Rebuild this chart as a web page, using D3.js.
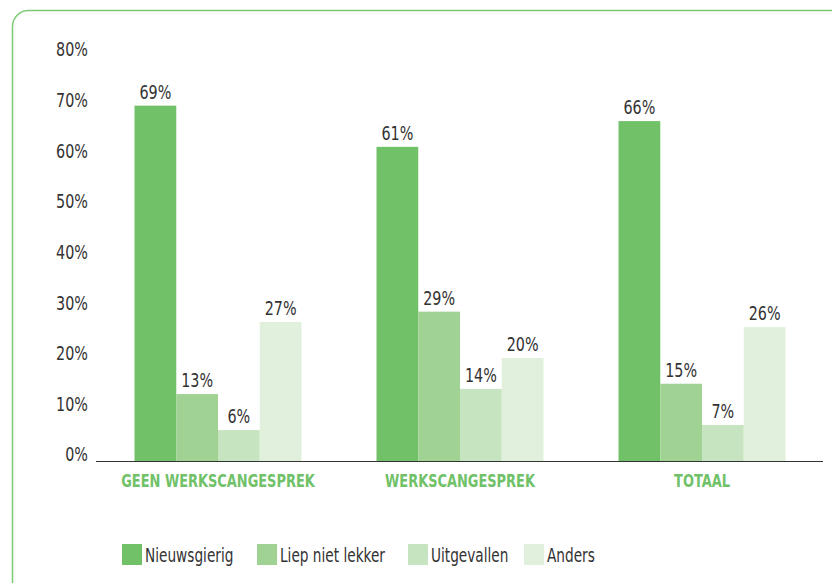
<!DOCTYPE html>
<html>
<head>
<meta charset="utf-8">
<script src="https://cdn.jsdelivr.net/npm/d3@7"></script>
<style>
  body { margin: 0; background: #fff; }
  svg { display: block; }
  text { font-family: "DejaVu Sans Condensed", "Liberation Sans", sans-serif; }
</style>
</head>
<body>
<svg width="832" height="583"></svg>
<script>
// Data
const groups = ["GEEN WERKSCANGESPREK", "WERKSCANGESPREK", "TOTAAL"];
const series = ["Nieuwsgierig", "Liep niet lekker", "Uitgevallen", "Anders"];
const nieuwsgierig = [0.69, 0.61, 0.66];
const liepNietLekker = [0.13, 0.29, 0.15];
const uitgevallen = [0.06, 0.14, 0.07];
const anders = [0.27, 0.20, 0.26];
const yTicks = [0, 0.1, 0.2, 0.3, 0.4, 0.5, 0.6, 0.7, 0.8];
const colors = ["#70c168", "#9fd293", "#c6e4bf", "#e1f0dc"];

const values = [nieuwsgierig, liepNietLekker, uitgevallen, anders];
const data = groups.map((g, gi) => ({
  group: g,
  bars: series.map((s, si) => ({ series: s, value: values[si][gi] }))
}));

const pct = d3.format(".0%");
// narrow the condensed font a bit more so it looks like the original
const squeeze = (x, y, s) => "translate(" + x + "," + y + ") scale(" + s + ",1)";

const svg = d3.select("svg");

// Green frame (rounded, runs off the right/bottom edge)
svg.append("rect")
  .attr("x", 12.5).attr("y", 10.5)
  .attr("width", 900).attr("height", 700)
  .attr("rx", 16)
  .attr("fill", "none")
  .attr("stroke", "#7dc873")
  .attr("stroke-width", 1.5);

const x0 = d3.scaleBand().domain(groups).range([97, 823]).paddingInner(0.31).paddingOuter(0.155);
const x1 = d3.scaleBand().domain(series).range([0, x0.bandwidth()]);
const y = d3.scaleLinear().domain([0, 0.8]).range([461, 49]);

// Y tick labels
svg.append("g").selectAll("text")
  .data(yTicks)
  .join("text")
  .attr("transform", d => squeeze(88, y(d) - 6 + 8.75 * d, 0.84))
  .attr("text-anchor", "end")
  .attr("dominant-baseline", "central")
  .attr("font-size", 19)
  .attr("fill", "#333")
  .text(pct);

// Bars
const g = svg.append("g").selectAll("g")
  .data(data)
  .join("g")
  .attr("transform", d => "translate(" + x0(d.group) + ",0)");

g.selectAll("rect")
  .data(d => d.bars)
  .join("rect")
  .attr("x", d => x1(d.series))
  .attr("y", d => y(d.value))
  .attr("width", x1.bandwidth())
  .attr("height", d => y(0) - y(d.value))
  .attr("fill", (d, i) => colors[i]);

g.selectAll("text")
  .data(d => d.bars)
  .join("text")
  .attr("transform", d => squeeze(x1(d.series) + x1.bandwidth() / 2, y(d.value) - 13.5, 0.84))
  .attr("text-anchor", "middle")
  .attr("dominant-baseline", "central")
  .attr("font-size", 19)
  .attr("fill", "#333")
  .text(d => pct(d.value));

// Baseline
svg.append("line")
  .attr("x1", 96).attr("x2", 823)
  .attr("y1", y(0) + 0.5).attr("y2", y(0) + 0.5)
  .attr("stroke", "#333").attr("stroke-width", 1.2);

// Group labels
svg.append("g").selectAll("text")
  .data(groups)
  .join("text")
  .attr("transform", d => squeeze(x0(d) + x0.bandwidth() / 2, 481, 0.8))
  .attr("text-anchor", "middle")
  .attr("dominant-baseline", "central")
  .attr("font-size", 18)
  .attr("font-weight", "bold")
  .attr("fill", "#70c168")
  .text(d => d);

// Legend
const legendX = [122, 257, 408, 524];
const legend = svg.append("g").selectAll("g")
  .data(series)
  .join("g")
  .attr("transform", (d, i) => "translate(" + legendX[i] + ",544)");

legend.append("rect")
  .attr("width", 20).attr("height", 21)
  .attr("fill", (d, i) => colors[i]);

legend.append("text")
  .attr("transform", squeeze(23, 11, 0.78))
  .attr("dominant-baseline", "central")
  .attr("font-size", 19.5)
  .attr("fill", "#333")
  .text(d => d);
</script>
</body>
</html>
